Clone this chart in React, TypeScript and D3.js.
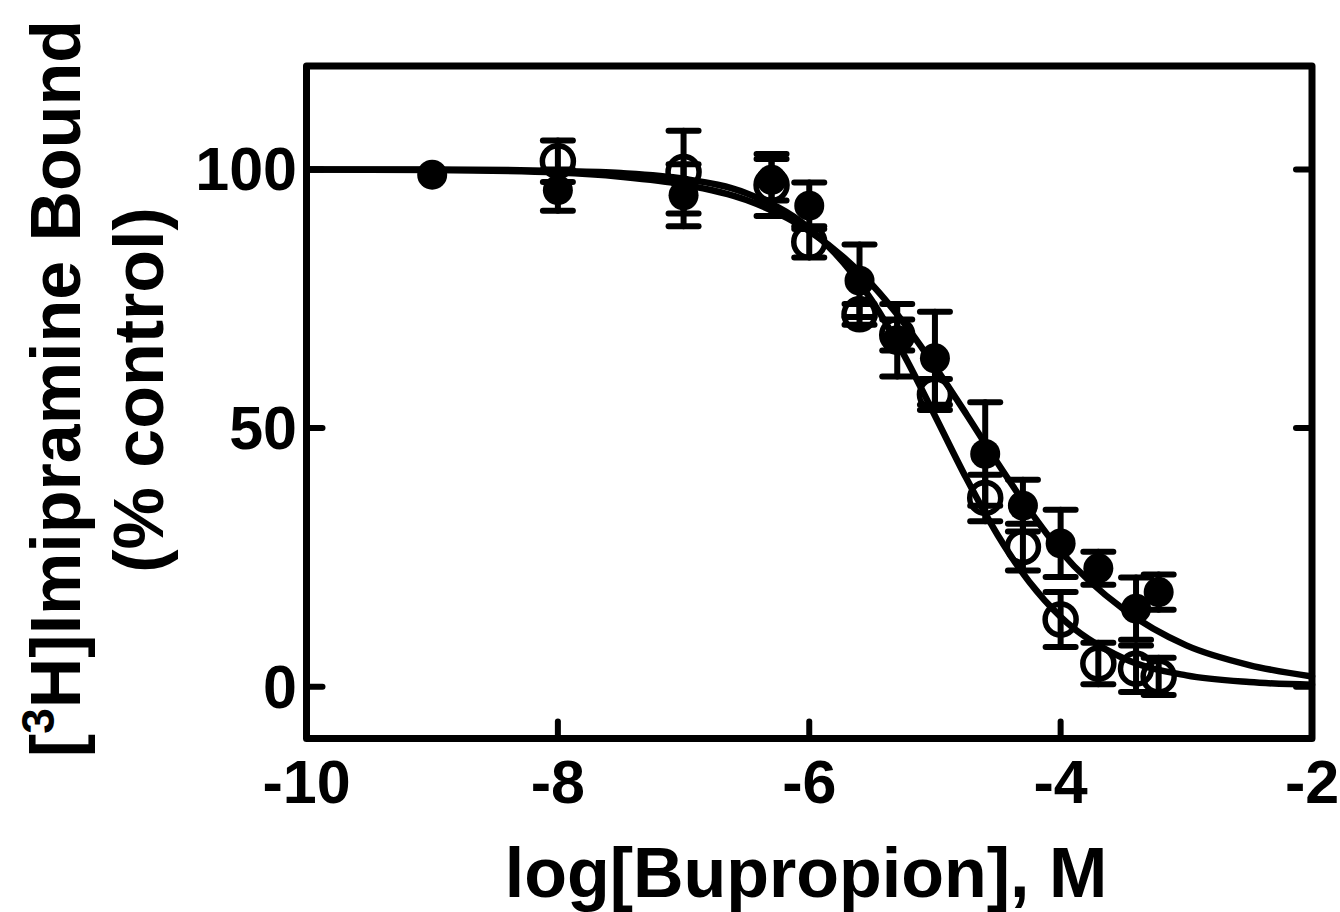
import * as d3 from 'd3';

// log[bupropion] doses, filled circles
const filledDose = [-9, -8, -7, -6.3, -6, -5.6, -5.3, -5, -4.6, -4.3, -4, -3.7, -3.4, -3.22];
const filledMean = [99, 96, 95, 98, 93, 78.5, 67, 63.5, 45, 35, 27.7, 22.9, 15.1, 18.3];
const filledErr = [0, 4, 6, 4, 4.5, 7, 7, 9, 10, 5, 6.5, 3.2, 6, 3.4];

// open circles
const openDose = [-8, -7, -6.3, -6, -5.6, -5.3, -5, -4.6, -4.3, -4, -3.7, -3.4, -3.22];
const openMean = [101.6, 99.5, 97, 86, 72, 68, 56.5, 36.5, 27, 13, 4.5, 3.5, 2];
const openErr = [4, 8, 6, 3, 2, 3, 3, 4.5, 4.5, 5.3, 4, 4.5, 3.6];

// fitted curves
const curveX = [-10, -9, -8, -7.5, -7, -6.5, -6, -5.5, -5.25, -5, -4.75, -4.5, -4.25, -4, -3.5, -3, -2.5, -2];
const filledFit = [100, 99.9, 99.4, 98.6, 97.1, 94.1, 88.1, 77.7, 70.4, 61.9, 52.7, 43.2, 34.2, 26.2, 15, 8, 4.2, 2];
const openFit = [100, 100, 99.7, 99.3, 98.2, 95.4, 88.6, 74.6, 64.3, 52.4, 40.3, 29.3, 20.3, 13.5, 5.5, 2.2, 0.9, 0.4];

const xTicks = [-10, -8, -6, -4, -2];
const yTicks = [0, 50, 100];

const font = '"Liberation Sans", Arial, Helvetica, sans-serif';

export default function App() {
  const width = 1340;
  const height = 912;
  const left = 306.5, right = 1312, top = 66, bottom = 738.5;

  const x = d3.scaleLinear().domain([-10, -2]).range([left, right]);
  const y = d3.scaleLinear().domain([-10, 120]).range([bottom, top]);

  const line = d3.line<[number, number]>()
    .x(d => x(d[0]))
    .y(d => y(d[1]))
    .curve(d3.curveMonotoneX);

  const filledPts = filledDose.map((d, i) => ({ d, m: filledMean[i], e: filledErr[i] }));
  const openPts = openDose.map((d, i) => ({ d, m: openMean[i], e: openErr[i] }));

  const errBar = (p: { d: number; m: number; e: number }, key: string) => {
    if (!p.e) return null;
    const cx = x(p.d);
    const y1 = y(p.m + p.e), y2 = y(p.m - p.e);
    return (
      <g key={key}>
        <line x1={cx} x2={cx} y1={y1} y2={y2} />
        <line x1={cx - 15} x2={cx + 15} y1={y1} y2={y1} />
        <line x1={cx - 15} x2={cx + 15} y1={y2} y2={y2} />
      </g>
    );
  };

  return (
    <svg width={width} height={height} style={{ position: 'absolute', left: 0, top: 0, background: '#fff' }}
      fontFamily={font} fontWeight="bold">
      {/* fitted curves */}
      <g fill="none" stroke="#000" strokeWidth={6.5} strokeLinecap="round">
        <path d={line(curveX.map((v, i) => [v, filledFit[i]]) as [number, number][]) || ''} />
        <path d={line(curveX.map((v, i) => [v, openFit[i]]) as [number, number][]) || ''} />
      </g>

      {/* error bars */}
      <g stroke="#000" strokeWidth={6} strokeLinecap="round">
        {filledPts.map((p, i) => errBar(p, 'f' + i))}
        {openPts.map((p, i) => errBar(p, 'o' + i))}
      </g>

      {/* markers */}
      {openPts.map((p, i) => (
        <circle key={'oc' + i} cx={x(p.d)} cy={y(p.m)} r={15.5} fill="none" stroke="#000" strokeWidth={5.5} />
      ))}
      {filledPts.map((p, i) => (
        <circle key={'fc' + i} cx={x(p.d)} cy={y(p.m)} r={15} fill="#000" />
      ))}

      {/* frame */}
      <rect x={left} y={top} width={right - left} height={bottom - top} fill="none" stroke="#000"
        strokeWidth={7} strokeLinejoin="round" />

      {/* ticks */}
      <g stroke="#000" strokeWidth={6} strokeLinecap="round">
        {yTicks.map(t => (
          <g key={'yt' + t}>
            <line x1={left} x2={left + 16} y1={y(t)} y2={y(t)} />
            <line x1={right} x2={right - 16} y1={y(t)} y2={y(t)} />
          </g>
        ))}
        {xTicks.slice(1, -1).map(t => (
          <line key={'xt' + t} x1={x(t)} x2={x(t)} y1={bottom} y2={bottom - 17} />
        ))}
      </g>

      {/* tick labels */}
      <g fontSize={61} fill="#000">
        {yTicks.map(t => (
          <text key={'yl' + t} x={297} y={y(t) + 21} textAnchor="end">{t}</text>
        ))}
        {xTicks.map(t => (
          <text key={'xl' + t} x={x(t)} y={803} textAnchor="middle">{t}</text>
        ))}
      </g>

      {/* axis titles */}
      <text x={806} y={897} fontSize={70} textAnchor="middle">log[Bupropion], M</text>
      <text transform="translate(80,388.5) rotate(-90)" fontSize={70} textAnchor="middle">
        [<tspan fontSize={46} dy={-26}>3</tspan><tspan dy={26}>H]Imipramine Bound</tspan>
      </text>
      <text transform="translate(163,390) rotate(-90)" fontSize={70} textAnchor="middle">(% control)</text>
    </svg>
  );
}
